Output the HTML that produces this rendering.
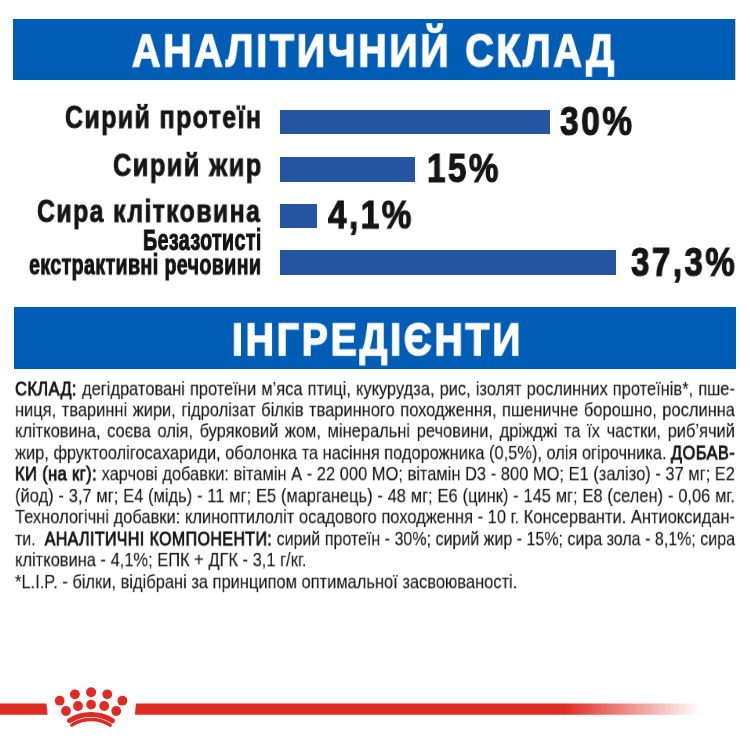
<!DOCTYPE html>
<html><head><meta charset="utf-8"><style>
html,body{margin:0;padding:0;background:#fff;width:750px;height:750px;overflow:hidden}
body{position:relative;font-family:"Liberation Sans",sans-serif}
.r{position:absolute}
.t{position:absolute;white-space:nowrap;transform-origin:0 0;will-change:transform}
.bl{position:absolute;left:15.0px;white-space:nowrap;font-size:21px;line-height:21px;color:#151515;-webkit-text-stroke:0.1px #151515;transform-origin:0 0;will-change:transform}
.bl b{font-weight:400;-webkit-text-stroke:0.9px #151515;letter-spacing:0.5px}
.j{text-align:justify;text-align-last:justify}
</style></head><body>
<div class="r" style="left:12.7px;top:18.5px;width:722.6px;height:61.4px;background:#005db6"></div>
<div class="r" style="left:735.3px;top:18.5px;width:0.9px;height:61.4px;background:#e8c486"></div>
<div class="r" style="left:13.8px;top:307.2px;width:722.2px;height:61.6px;background:#005db6"></div>
<div class="r" style="left:279.6px;top:109.6px;width:270.4px;height:24.7px;background:#2656a2"></div>
<div class="r" style="left:279.6px;top:156.9px;width:135.1px;height:24.7px;background:#2656a2"></div>
<div class="r" style="left:279.6px;top:203.7px;width:37.4px;height:24.7px;background:#2656a2"></div>
<div class="r" style="left:279.6px;top:250.3px;width:336px;height:24.5px;background:#2656a2"></div>
<div class="t" style="left:132.30px;top:27.54px;font-size:48px;line-height:48px;font-weight:700;color:#fff;-webkit-text-stroke:1.7px #fff;letter-spacing:3.5px;transform:scale(0.8164,0.9600)">АНАЛІТИЧНИЙ СКЛАД</div>
<div class="t" style="left:231.67px;top:316.57px;font-size:48px;line-height:48px;font-weight:700;color:#fff;-webkit-text-stroke:1.7px #fff;letter-spacing:3.5px;transform:scale(0.8134,0.9543)">ІНГРЕДІЄНТИ</div>
<div class="t" style="left:65.34px;top:102.44px;font-size:29px;line-height:29px;font-weight:700;color:#151515;-webkit-text-stroke:0.8px #151515;letter-spacing:1.6px;transform:scale(0.8613,1.0900)">Сирий протеїн</div>
<div class="t" style="left:112.72px;top:149.40px;font-size:29px;line-height:29px;font-weight:700;color:#151515;-webkit-text-stroke:0.8px #151515;letter-spacing:1.6px;transform:scale(0.8766,1.1000)">Сирий жир</div>
<div class="t" style="left:36.94px;top:196.44px;font-size:29px;line-height:29px;font-weight:700;color:#151515;-webkit-text-stroke:0.8px #151515;letter-spacing:1.6px;transform:scale(0.8579,1.0900)">Сира клітковина</div>
<div class="t" style="left:142.72px;top:225.12px;font-size:29px;line-height:29px;font-weight:700;color:#151515;-webkit-text-stroke:1.1px #151515;letter-spacing:0.6px;transform:scale(0.6779,1.0200)">Безазотисті</div>
<div class="t" style="left:28.72px;top:251.25px;font-size:29px;line-height:29px;font-weight:700;color:#151515;-webkit-text-stroke:1.1px #151515;letter-spacing:0.6px;transform:scale(0.6762,0.9688)">екстрактивні речовини</div>
<div class="t" style="left:559.60px;top:101.00px;font-size:40px;line-height:40px;font-weight:700;color:#151515;-webkit-text-stroke:1.2px #151515;letter-spacing:3.0px;transform:scale(0.8372,1.0000)">30%</div>
<div class="t" style="left:426.64px;top:147.15px;font-size:40px;line-height:40px;font-weight:700;color:#151515;-webkit-text-stroke:1.2px #151515;letter-spacing:3.0px;transform:scale(0.8298,1.0250)">15%</div>
<div class="t" style="left:328.00px;top:194.73px;font-size:40px;line-height:40px;font-weight:700;color:#151515;-webkit-text-stroke:1.2px #151515;letter-spacing:3.0px;transform:scale(0.8330,0.9786)">4,1%</div>
<div class="t" style="left:630.90px;top:241.74px;font-size:40px;line-height:40px;font-weight:700;color:#151515;-webkit-text-stroke:1.2px #151515;letter-spacing:3.0px;transform:scale(0.8280,0.9929)">37,3%</div>
<div class="bl j" style="top:377.52px;width:918.56px;transform:scale(0.7838,0.96)"><b>СКЛАД:</b> дегідратовані протеїни м’яса птиці, кукурудза, рис, ізолят рослинних протеїнів*, пше-</div>
<div class="bl j" style="top:398.97px;width:918.56px;transform:scale(0.7838,0.96)">ниця, тваринні жири, гідролізат білків тваринного походження, пшеничне борошно, рослинна</div>
<div class="bl j" style="top:420.42px;width:918.56px;transform:scale(0.7838,0.96)">клітковина, соєва олія, буряковий жом, мінеральні речовини, дріжджі та їх частки, риб’ячий</div>
<div class="bl j" style="top:441.87px;width:921.64px;transform:scale(0.7812,0.96)">жир, фруктоолігосахариди, оболонка та насіння подорожника (0,5%), олія огірочника. <b>ДОБАВ-</b></div>
<div class="bl j" style="top:463.32px;width:918.56px;transform:scale(0.7838,0.96)"><b>КИ (на кг):</b> харчові добавки: вітамін А - 22 000 МО; вітамін D3 - 800 МО; Е1 (залізо) - 37 мг; Е2</div>
<div class="bl j" style="top:484.77px;width:918.56px;transform:scale(0.7838,0.96)">(йод) - 3,7 мг; Е4 (мідь) - 11 мг; Е5 (марганець) - 48 мг; Е6 (цинк) - 145 мг; Е8 (селен) - 0,06 мг.</div>
<div class="bl j" style="top:506.22px;width:918.56px;transform:scale(0.7838,0.96)">Технологічні добавки: клиноптилоліт осадового походження - 10 г. Консерванти. Антиоксидан-</div>
<div class="bl j" style="top:527.67px;width:944.66px;transform:scale(0.7622,0.96)">ти.&nbsp; <b>АНАЛІТИЧНІ КОМПОНЕНТИ:</b> сирий протеїн - 30%; сирий жир - 15%; сира зола - 8,1%; сира</div>
<div class="bl" style="top:549.12px;width:918.56px;transform:scale(0.7838,0.96)">клітковина - 4,1%; ЕПК + ДГК - 3,1 г/кг.</div>
<div class="bl" style="top:570.57px;width:918.56px;transform:scale(0.7838,0.96)">*L.I.P. - білки, відібрані за принципом оптимальної засвоюваності.</div>
<svg class="r" style="left:0;top:0" width="750" height="750" viewBox="0 0 750 750">
<defs><linearGradient id="g" x1="0" x2="1" y1="0" y2="0">
<stop offset="0" stop-color="#df2b22" stop-opacity="1"/>
<stop offset="0.7578" stop-color="#df2b22" stop-opacity="1"/>
<stop offset="1" stop-color="#df2b22" stop-opacity="0"/></linearGradient></defs>
<path d="M0 703.4H46.4Q47.2 709 47.6 714.8H0Z" fill="#df2b22"/>
<path d="M136 703.4H701V714.8H135Q135.3 709 136 703.4Z" fill="url(#g)"/>
<g fill="#df2b22">
<circle cx="59.7" cy="700.7" r="4.9"/><circle cx="74.9" cy="694.3" r="4.9"/><circle cx="91.1" cy="692.3" r="5"/><circle cx="107.3" cy="694.3" r="4.9"/><circle cx="122.4" cy="700.7" r="4.9"/>
<circle cx="66" cy="711" r="4.9"/><circle cx="78" cy="706" r="4.9"/><circle cx="91.1" cy="704.6" r="4.9"/><circle cx="104.2" cy="706" r="4.9"/><circle cx="116.2" cy="711" r="4.9"/>
</g>
<path d="M69.6 720.7 A40.6 40.6 0 0 1 112.4 720.7" stroke="#df2b22" stroke-width="5" fill="none" stroke-linecap="round"/>
<path d="M71.8 725.1 A35.7 35.7 0 0 1 110.2 725.1" stroke="#df2b22" stroke-width="3.4" fill="none" stroke-linecap="round"/>
</svg>
</body></html>
